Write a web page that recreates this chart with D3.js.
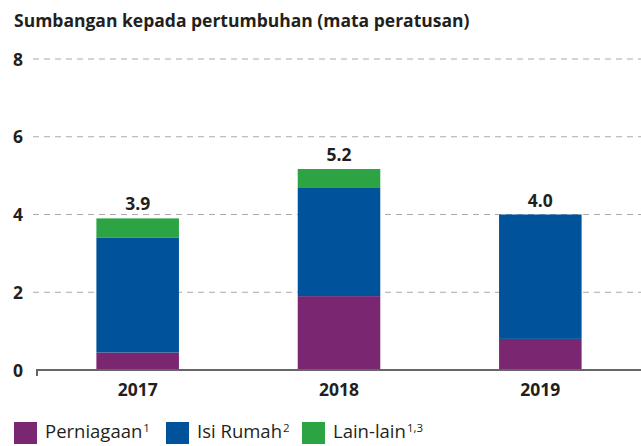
<!DOCTYPE html>
<html><head><meta charset="utf-8">
<script src="https://cdn.jsdelivr.net/npm/d3@7"></script>
<style>
body{margin:0;background:#fff;}
svg{display:block;font-family:"Open Sans","Noto Sans",sans-serif;}
</style></head>
<body><svg id="c" width="641" height="446"></svg>
<script>
const years = ["2017","2018","2019"];
const perniagaan = [0.45, 1.9, 0.8];
const isiRumah = [2.96, 2.8, 3.2];
const lainLain = [0.49, 0.47, 0.0];
const totals = ["3.9","5.2","4.0"];
const yTicks = [0,2,4,6,8];
const seriesNames = ["Perniagaan","Isi Rumah","Lain-lain"];
const seriesSup = ["1","2","1,3"];
const colors = ["#7B2670","#00539B","#2DA444"];
const title = "Sumbangan kepada pertumbuhan (mata peratusan)";

const svg = d3.select("#c");
const x = d3.scaleBand().domain(years).range([37,641]).paddingInner(0.59).paddingOuter(0.295);
const y = d3.scaleLinear().domain([0,8]).range([370,59]);
const ink = "#231f20";

svg.append("text").attr("x",14).attr("y",27).attr("font-size",17.5).attr("font-weight","bold").attr("fill",ink).text(title);

// gridlines
svg.append("g").selectAll("line").data(yTicks.filter(d=>d>0)).join("line")
  .attr("x1",33).attr("x2",641).attr("y1",d=>y(d)).attr("y2",d=>y(d))
  .attr("stroke","#aaa").attr("stroke-width",1.2).attr("stroke-dasharray","6,5");
svg.append("g").selectAll("text").data(yTicks).join("text")
  .attr("x",13).attr("y",d=>y(d)+6.5).attr("font-size",17.5).attr("font-weight","bold").attr("fill",ink).text(d=>d);

const rows = years.map((yr,i)=>({year:yr, s0:perniagaan[i], s1:isiRumah[i], s2:lainLain[i]}));
const stack = d3.stack().keys(["s0","s1","s2"])(rows);
svg.append("g").selectAll("g").data(stack).join("g").attr("fill",(d,i)=>colors[i])
  .selectAll("rect").data(d=>d).join("rect")
  .attr("x",d=>x(d.data.year)).attr("width",x.bandwidth())
  .attr("y",d=>y(d[1])).attr("height",d=>y(d[0])-y(d[1]));

svg.append("g").selectAll("text").data(years).join("text")
  .attr("x",d=>x(d)+x.bandwidth()/2).attr("y",(d,i)=>y(perniagaan[i]+isiRumah[i]+lainLain[i])-8)
  .attr("text-anchor","middle").attr("font-size",17.5).attr("font-weight","bold").attr("fill",ink)
  .text((d,i)=>totals[i]);

// x axis
const xa = svg.append("g").attr("transform","translate(0,370)");
xa.append("line").attr("x1",36).attr("x2",641).attr("y1",0).attr("y2",0).attr("stroke","#666").attr("stroke-width",2);
xa.append("line").attr("x1",37).attr("x2",37).attr("y1",0).attr("y2",6).attr("stroke","#666").attr("stroke-width",2);
xa.selectAll("text").data(years).join("text")
  .attr("x",d=>x(d)+x.bandwidth()/2).attr("y",26).attr("text-anchor","middle")
  .attr("font-size",17.5).attr("font-weight","bold").attr("fill",ink).text(d=>d);

// legend
const legX = [14,166,302];
const lg = svg.append("g").selectAll("g").data(seriesNames).join("g")
  .attr("transform",(d,i)=>`translate(${legX[i]},422)`);
lg.append("rect").attr("width",23).attr("height",22).attr("fill",(d,i)=>colors[i]);
const lt = lg.append("text").attr("x",31).attr("y",16).attr("font-size",18.5).attr("fill",ink);
lt.append("tspan").text(d=>d);
lt.append("tspan").attr("font-size",11.5).attr("dy",-6).attr("dx",1).text((d,i)=>seriesSup[i]);
</script></body></html>
